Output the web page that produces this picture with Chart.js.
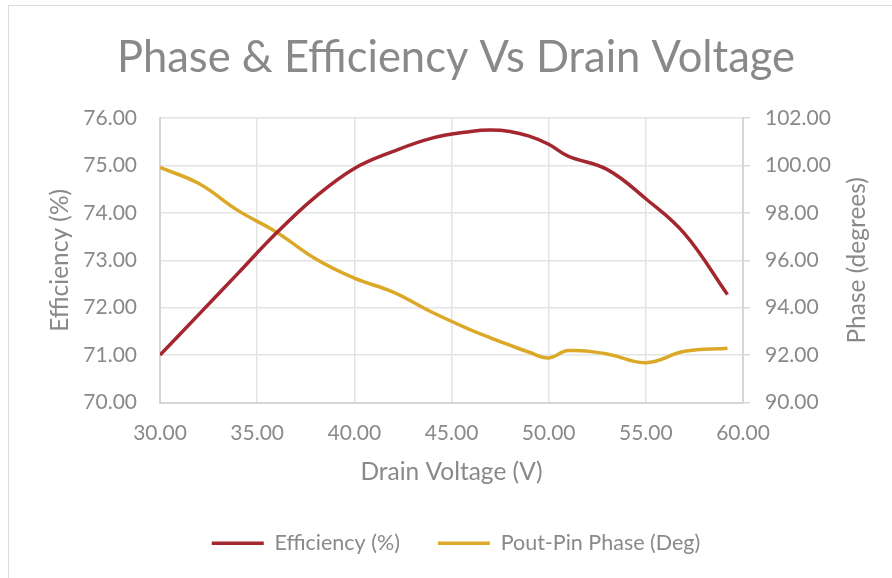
<!DOCTYPE html>
<html>
<head>
<meta charset="utf-8">
<script src="https://cdn.jsdelivr.net/npm/chart.js@4"></script>
<style>
	html, body { margin: 0; padding: 0; background: #fff; }
	#frame {
		position: absolute; left: 8px; top: 5px; width: 900px; height: 600px;
		border-left: 1.5px solid #dcdcdc; border-top: 1.5px solid #dcdcdc;
	}
	#wrap { position: absolute; left: 0; top: 0; width: 892px; height: 578px; }
</style>
</head>
<body>
<div id="frame"></div>
<div id="wrap"><canvas id="phaseChart" width="892" height="578"></canvas></div>
<script>
// drain voltage (V)
const voltage = [30, 32, 34, 36, 38, 40, 42, 44, 46, 47, 48, 49, 50, 51, 53, 55, 57, 59.2];
// efficiency (%), left axis
const efficiency = [71.00, 71.86, 72.72, 73.58, 74.34, 74.94, 75.30, 75.58, 75.72, 75.75, 75.72, 75.62, 75.45, 75.20, 74.92, 74.30, 73.56, 72.28];
// pout-pin phase (deg), right axis
const phase = [99.92, 99.24, 98.11, 97.19, 96.07, 95.25, 94.66, 93.81, 93.06, 92.73, 92.42, 92.12, 91.88, 92.19, 92.05, 91.68, 92.16, 92.29];

const seriesNames = ["Efficiency (%)", "Pout-Pin Phase (Deg)"];
const xTicks = [30, 35, 40, 45, 50, 55, 60];
const effTicks = [70, 71, 72, 73, 74, 75, 76];
const phaseTicks = [90, 92, 94, 96, 98, 100, 102];

const textColor = "#898989";
const gridColor = "#e4e4e4";
const axisColor = "#d6d6d6";
const fontFamily = "Lato, 'Open Sans', sans-serif";
const axisTitleSize = 24.5;
const padLeft = 20;

function toPoints(xs, ys) {
	return xs.map((x, i) => ({ x: x, y: ys[i] }));
}

function fixedTicks(values) {
	return function (scale) {
		scale.ticks = values.map((v) => ({ value: v }));
	};
}

// Excel writes the right axis title bottom-to-top, Chart.js the other way
const rightTitle = {
	id: "rightTitle",
	afterDraw(chart) {
		const area = chart.chartArea;
		const c = chart.ctx;
		c.save();
		c.translate(857, (area.top + area.bottom) / 2);
		c.rotate(-Math.PI / 2);
		c.textAlign = "center";
		c.textBaseline = "middle";
		c.fillStyle = textColor;
		c.font = axisTitleSize + "px " + fontFamily;
		c.fillText("Phase (degrees)", 0, 0);
		c.restore();
	},
};

const ctx = document.getElementById("phaseChart").getContext("2d");
const chart = new Chart(ctx, {
	type: "scatter",
	data: {
		datasets: [
			{
				label: seriesNames[0],
				data: toPoints(voltage, efficiency),
				yAxisID: "yEff",
				showLine: true,
				tension: 0.4,
				borderColor: "#a4262f",
				backgroundColor: "#a4262f",
				borderWidth: 3.5,
				pointRadius: 0,
				pointStyle: "line",
			},
			{
				label: seriesNames[1],
				data: toPoints(voltage, phase),
				yAxisID: "yPhase",
				showLine: true,
				tension: 0.4,
				borderColor: "#dba927",
				backgroundColor: "#dba927",
				borderWidth: 3.5,
				pointRadius: 0,
				pointStyle: "line",
			},
		],
	},
	plugins: [rightTitle],
	options: {
		responsive: false,
		animation: false,
		layout: { padding: { left: padLeft, right: 0, top: 0, bottom: 14 } },
		plugins: {
			tooltip: { enabled: false },
			title: {
				display: true,
				text: "Phase & Efficiency Vs Drain Voltage",
				color: textColor,
				font: { family: fontFamily, size: 43.5, weight: "normal" },
				padding: { top: 32, bottom: 34 },
			},
			legend: {
				position: "bottom",
				labels: {
					color: textColor,
					font: { family: fontFamily, size: 21.5 },
					usePointStyle: true,
					pointStyle: "line",
					pointStyleWidth: 52,
					padding: 38,
				},
			},
		},
		scales: {
			x: {
				type: "linear",
				min: 30,
				max: 60,
				afterBuildTicks: fixedTicks(xTicks),
				afterFit: (scale) => { scale.height = 92; },
				ticks: {
					color: textColor,
					font: { family: fontFamily, size: 21 },
					padding: 18,
					maxRotation: 0,
					callback: (v) => v.toFixed(2),
				},
				grid: { color: gridColor, lineWidth: 1.5, drawTicks: false },
				border: { color: axisColor, width: 2 },
				title: {
					display: true,
					text: "Drain Voltage (V)",
					color: textColor,
					font: { family: fontFamily, size: axisTitleSize },
					padding: { top: 0, bottom: 7.5 },
				},
			},
			yEff: {
				type: "linear",
				position: "left",
				min: 70,
				max: 76,
				afterBuildTicks: fixedTicks(effTicks),
				afterFit: (scale) => { scale.width = 160 - padLeft; },
				ticks: {
					color: textColor,
					font: { family: fontFamily, size: 21 },
					padding: 23,
					callback: (v) => v.toFixed(2),
				},
				grid: { color: gridColor, lineWidth: 1.5, drawTicks: false },
				border: { color: axisColor, width: 2 },
				title: {
					display: true,
					text: "Efficiency (%)",
					color: textColor,
					font: { family: fontFamily, size: axisTitleSize },
					padding: { top: 25, bottom: 0 },
				},
			},
			yPhase: {
				type: "linear",
				position: "right",
				min: 90,
				max: 102,
				afterBuildTicks: fixedTicks(phaseTicks),
				afterFit: (scale) => { scale.width = 149; },
				ticks: {
					color: textColor,
					font: { family: fontFamily, size: 21 },
					padding: 15,
					callback: (v) => v.toFixed(2),
				},
				grid: { drawOnChartArea: false, color: axisColor, lineWidth: 1.5, tickLength: 7 },
				border: { color: axisColor, width: 2 },
			},
		},
	},
});
</script>
</body>
</html>
